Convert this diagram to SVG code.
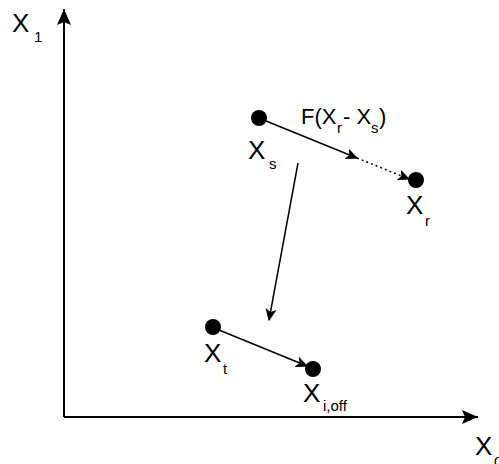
<svg xmlns="http://www.w3.org/2000/svg" width="499" height="464" viewBox="0 0 499 464">
<defs>
<style>
.lbl{font-family:"Liberation Sans",Arial,sans-serif;font-size:26px;fill:#000}
.f{font-size:22px}
.sub{font-size:15px}
.axis{stroke:#000;stroke-width:2;fill:none}
.conn{stroke:#000;stroke-width:1.5;fill:none}
.dot{fill:#000}
</style>
<marker id="big" viewBox="-16 -8 17 16" refX="0" refY="0" markerWidth="17" markerHeight="16" markerUnits="userSpaceOnUse" orient="auto">
<path d="M0,0 L-16,-7 L-13,0 L-16,7 Z" fill="#000"/>
</marker>
<marker id="open" viewBox="-11 -6 12 12" refX="0" refY="0" markerWidth="12" markerHeight="12" markerUnits="userSpaceOnUse" orient="auto">
<path d="M-10,-4.5 L0,0 L-10,4.5 L-7.5,0 Z" fill="#000" stroke="#000" stroke-width="1" stroke-linejoin="miter"/>
</marker>
</defs>
<g id="axes">
<line class="axis" x1="64" y1="417" x2="64" y2="9" marker-end="url(#big)"/>
<line class="axis" x1="64" y1="417" x2="478" y2="417" marker-end="url(#big)"/>
<text class="lbl" x="12" y="32">X<tspan class="sub" x="34" y="42">1</tspan></text>
<text class="lbl" x="475" y="455">X<tspan class="sub" x="494" y="467">0</tspan></text>
</g>
<g id="connectors">
<line class="conn" x1="266" y1="121" x2="357" y2="158" marker-end="url(#open)"/>
<line class="conn" x1="357" y1="158" x2="409" y2="179" stroke-dasharray="2 3" marker-end="url(#open)"/>
<line class="conn" x1="298" y1="163" x2="269" y2="320" marker-end="url(#open)"/>
<line class="conn" x1="219" y1="330" x2="307" y2="366" marker-end="url(#open)"/>
<text class="lbl f" x="301" y="124">F(X</text>
<text class="lbl sub" x="337" y="133">r</text>
<text class="lbl f" x="343" y="124">- X</text>
<text class="lbl sub" x="371" y="133">s</text>
<text class="lbl f" x="379" y="124">)</text>
</g>
<g id="node-xs">
<circle class="dot" cx="259" cy="118" r="8"/>
<text class="lbl" x="248" y="159">X<tspan class="sub" x="269" y="169">s</tspan></text>
</g>
<g id="node-xr">
<circle class="dot" cx="416" cy="180" r="8"/>
<text class="lbl" x="406" y="214">X<tspan class="sub" x="425" y="226">r</tspan></text>
</g>
<g id="node-xt">
<circle class="dot" cx="213" cy="327" r="8"/>
<text class="lbl" x="204" y="362">X<tspan class="sub" x="223" y="374">t</tspan></text>
</g>
<g id="node-xioff">
<circle class="dot" cx="313" cy="369" r="8"/>
<text class="lbl" x="303" y="402">X<tspan class="sub" x="323" y="411">i,off</tspan></text>
</g>
</svg>
